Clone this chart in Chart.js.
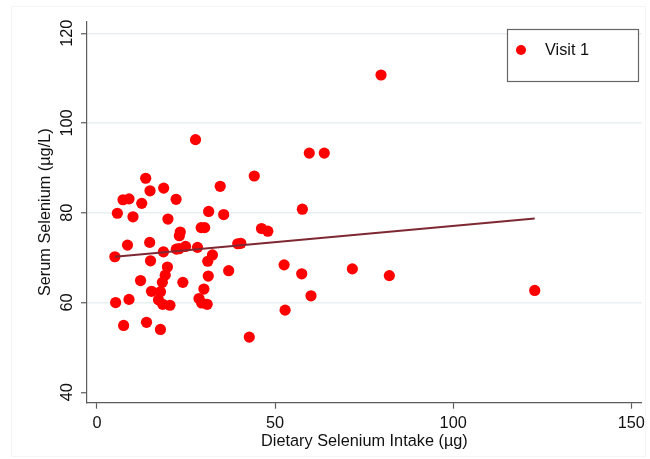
<!DOCTYPE html>
<html>
<head>
<meta charset="utf-8">
<script src="https://cdn.jsdelivr.net/npm/chart.js@4"></script>
<style>
body { margin: 0; background: #fff; }
#wrap { width: 650px; height: 459px; }
</style>
</head>
<body>
<div id="wrap"><canvas id="selenium_graph" width="650" height="459"></canvas></div>
<script>
// dietary intake (µg) and serum level (µg/L), one pair per subject
const intake = [
  27.67, 44.16, 13.69, 14.90, 18.73, 34.60, 7.32, 9.00, 12.58, 22.22,
  5.73, 10.12, 31.36, 35.58, 19.93, 23.39, 23.14, 29.26, 30.24, 46.20,
  47.96, 8.58, 14.81, 5.03, 18.67, 22.28, 23.06, 24.87, 28.23, 39.52,
  40.39, 32.42, 15.04, 31.11, 19.79, 19.17, 12.24, 18.36, 24.12, 31.25,
  36.98, 15.32, 17.83, 30.02, 5.25, 9.00, 17.27, 18.45, 20.49, 28.65,
  29.40, 30.94, 7.49, 13.92, 17.83, 42.76, 59.61, 63.81, 57.66, 52.54,
  57.49, 71.69, 82.08, 60.09, 52.82, 79.74, 122.89
];
const serum = [
  96.3, 88.2, 87.7, 84.9, 85.5, 85.9, 82.9, 83.1, 82.1, 83.0,
  79.9, 79.1, 80.3, 79.6, 78.6, 75.7, 74.9, 76.7, 76.7, 76.5,
  75.9, 72.8, 73.4, 70.2, 71.3, 71.9, 72.0, 72.5, 72.3, 73.1,
  73.2, 70.6, 69.3, 69.2, 67.9, 66.1, 64.9, 64.5, 64.5, 65.9,
  67.1, 62.5, 62.4, 63.0, 60.0, 60.7, 60.6, 59.6, 59.4, 60.9,
  59.9, 59.6, 54.9, 55.6, 54.0, 52.3, 93.3, 93.3, 80.8, 68.4,
  66.4, 67.5, 66.0, 61.5, 58.3, 110.7, 62.7
];
// fitted line end points
const fitX = [5.03, 122.89];
const fitY = [70.2, 78.7];

const xTicks = [0, 50, 100, 150];
const yTicks = [40, 60, 80, 100, 120];
const seriesLabel = "Visit 1";

const FONT = "'Liberation Sans', Arial, Helvetica, sans-serif";
const TXT = "#111";
const AXIS = "#5c5c5c";

Chart.defaults.font.family = FONT;
Chart.defaults.font.size = 16.3;
Chart.defaults.color = TXT;

const points = intake.map((x, i) => ({ x: x, y: serum[i] }));
const fit = fitX.map((x, i) => ({ x: x, y: fitY[i] }));

// outer frame + boxed legend, drawn like the stata graph region
const frame = {
  id: "frame",
  beforeDraw: (chart) => {
    const c = chart.ctx;
    c.save();
    c.strokeStyle = "#f5f5f5";
    c.lineWidth = 1;
    c.strokeRect(11.5, 6.5, 634, 450);
    c.restore();
  },
  afterDraw: (chart) => {
    const c = chart.ctx;
    const ds = chart.data.datasets[1];
    c.save();
    c.fillStyle = "#fff";
    c.fillRect(507, 29, 131, 52);
    c.strokeStyle = "#666";
    c.lineWidth = 1.2;
    c.strokeRect(507.5, 29.5, 131, 52);
    c.fillStyle = ds.backgroundColor;
    c.beginPath();
    c.arc(521, 50, 5, 0, Math.PI * 2);
    c.fill();
    c.fillStyle = TXT;
    c.font = "16.3px " + FONT;
    c.textBaseline = "middle";
    c.fillText(ds.label, 545, 50.5);
    c.restore();
  }
};

const ctx = document.getElementById("selenium_graph");
const chart = new Chart(ctx, {
  type: "scatter",
  data: {
    datasets: [{
      label: "fit",
      data: fit,
      showLine: true,
      borderColor: "#7d2832",
      borderWidth: 2,
      pointRadius: 0,
      order: 0,
    }, {
      label: seriesLabel,
      data: points,
      backgroundColor: "#ff0000",
      borderWidth: 0,
      pointRadius: 5.6,
      pointHoverRadius: 5.6,
      order: 1,
    }]
  },
  options: {
    responsive: false,
    animation: false,
    events: [],
    layout: {
      padding: { top: 21.7, right: 5.7, left: 0, bottom: 0 }
    },
    plugins: {
      legend: { display: false },
      tooltip: { enabled: false },
    },
    scales: {
      x: {
        type: "linear",
        min: -2.79,
        max: 152.96,
        afterBuildTicks: (s) => { s.ticks = xTicks.map(v => ({ value: v })); },
        afterFit: (s) => { s.height = 56.3; },
        border: { color: AXIS, width: 1.2 },
        grid: { drawOnChartArea: false, tickLength: 6, tickColor: AXIS, tickWidth: 1.2 },
        ticks: { padding: 5, color: TXT },
        title: {
          display: true,
          text: "Dietary Selenium Intake (µg)",
          color: TXT,
          padding: { bottom: 7.7 },
        },
      },
      y: {
        type: "linear",
        min: 37.68,
        max: 122.58,
        afterBuildTicks: (s) => { s.ticks = yTicks.map(v => ({ value: v })); },
        afterFit: (s) => { s.width = 87; },
        border: { color: AXIS, width: 1.2 },
        grid: {
          color: (c) => (c.tick && c.tick.value === 40) ? "rgba(0,0,0,0)" : "#e9f0f2",
          lineWidth: 1.5,
          tickLength: 6,
          tickColor: AXIS,
          tickWidth: 1.2,
        },
        ticks: { padding: 0, color: TXT, minRotation: 90, maxRotation: 90, crossAlign: "center" },
        title: {
          display: true,
          text: "Serum Selenium (µg/L)",
          color: TXT,
          padding: { top: 36 },
        },
      }
    }
  },
  plugins: [frame]
});
</script>
</body>
</html>
